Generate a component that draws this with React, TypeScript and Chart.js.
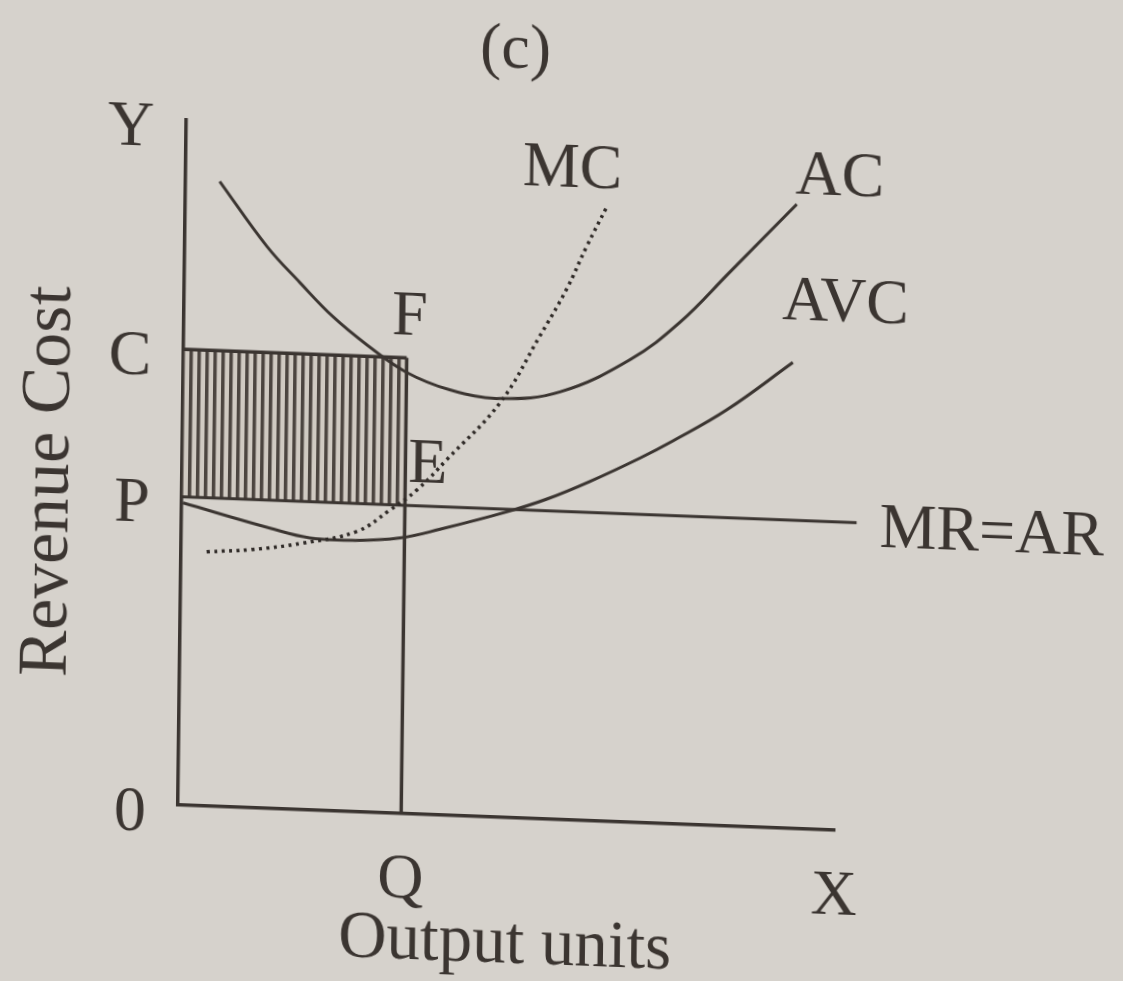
import { useEffect, useRef } from "react";
import { Chart, registerables } from "chart.js";

Chart.register(...registerables);

// Price, average cost at equilibrium and equilibrium output
const P = 4.5;
const C = 6.65;
const Q = 3.4;

// Average cost curve
const acX = [0.52, 1.25, 1.76, 2.27, 2.79, 3.4, 4.06, 4.83, 5.74, 6.8, 7.55, 8.3, 9.31];
const acY = [9.12, 8.2, 7.69, 7.21, 6.82, 6.44, 6.21, 6.11, 6.24, 6.75, 7.32, 8.08, 9.11];

// Average variable cost curve
const avcX = [0.02, 1.35, 1.96, 2.65, 3.33, 3.94, 4.95, 5.56, 6.21, 6.97, 7.47, 8.28, 9.28];
const avcY = [4.41, 4.09, 3.97, 3.96, 4.02, 4.17, 4.46, 4.67, 4.95, 5.32, 5.59, 6.07, 6.8];

// Marginal cost curve
const mcX = [0.39, 1.09, 1.85, 2.67, 3.17, 3.58, 4.03, 4.83, 5.42, 5.82, 6.12, 6.42];
const mcY = [3.71, 3.77, 3.89, 4.09, 4.42, 4.73, 5.19, 6.05, 7.04, 7.74, 8.38, 8.97];

// Marginal revenue = average revenue (horizontal at price P)
const mrX = [0, 10.28];
const mrY = [P, P];

// Axis tick marks
const yTickValues = [0, P, C, 10];
const yTickLabels = ["0", "P", "C", "Y"];
const xTickValues = [Q, 10];
const xTickLabels = ["Q", "X"];

// Curve and point names, anchored in data space
const noteText = ["MC", "AC", "AVC", "MR=AR", "F", "E"];
const noteX = [5.89, 9.96, 10.07, 10.63, 3.44, 3.74];
const noteY = [9.49, 9.52, 7.67, 4.41, 7.24, 5.09];

// Vertical axis caption, centred at this value
const yCaption = "Revenue Cost";
const yCaptionAt = 4.65;

const INK = "#3b3531";
const PAPER = "#d6d2cc";
const SERIF = '"Liberation Serif", "Times New Roman", serif';

const pts = (xs: number[], ys: number[]) => xs.map((x, i) => ({ x, y: ys[i] }));

function makeHatch(): CanvasPattern | string {
  const c = document.createElement("canvas");
  c.width = 8;
  c.height = 8;
  const g = c.getContext("2d");
  if (!g) return INK;
  g.fillStyle = "#d0cac2";
  g.fillRect(0, 0, 8, 8);
  g.fillStyle = "#4c4540";
  g.fillRect(0, 0, 3.5, 8);
  return g.createPattern(c, "repeat") || INK;
}

const notesPlugin = {
  id: "curveNotes",
  afterDatasetsDraw(chart: any) {
    const { ctx, scales } = chart;
    const x = scales.x;
    const y = scales.y;
    ctx.save();
    ctx.font = `64px ${SERIF}`;
    ctx.fillStyle = INK;
    ctx.textBaseline = "middle";
    noteText.forEach((t, i) => {
      ctx.textAlign = t === "MR=AR" ? "left" : "center";
      ctx.fillText(t, x.getPixelForValue(noteX[i]), y.getPixelForValue(noteY[i]));
    });
    // caption along the vertical axis
    ctx.translate(46, y.getPixelForValue(yCaptionAt));
    ctx.rotate(-Math.PI / 2);
    ctx.textAlign = "center";
    ctx.font = `70px ${SERIF}`;
    ctx.fillText(yCaption, 0, 0);
    ctx.restore();
  },
};

export default function App() {
  const ref = useRef<HTMLCanvasElement | null>(null);

  useEffect(() => {
    if (!ref.current) return;
    const hatch = makeHatch();
    const textFont = { family: SERIF, size: 64, weight: "normal" as const, lineHeight: 1.2 };
    const line = {
      borderColor: INK,
      pointRadius: 0,
      fill: false,
      tension: 0.4,
    };

    const chart = new Chart(ref.current, {
      type: "line",
      data: {
        datasets: [
          {
            ...line,
            label: "MC",
            data: pts(mcX, mcY),
            borderColor: "#2f2a27",
            borderWidth: 3.5,
            borderDash: [3, 4.5],
            order: 1,
          },
          { ...line, label: "AC", data: pts(acX, acY), borderWidth: 3, order: 2 },
          { ...line, label: "AVC", data: pts(avcX, avcY), borderWidth: 3, order: 3 },
          { ...line, label: "MR=AR", data: pts(mrX, mrY), borderWidth: 3, clip: false, order: 4 },
          { ...line, label: "OQ", data: [{ x: Q, y: 0 }, { x: Q, y: C }], borderWidth: 3.5, order: 5 },
          {
            ...line,
            label: "Loss",
            data: [{ x: 0, y: C }, { x: Q, y: C }],
            fill: { value: P },
            backgroundColor: hatch as any,
            borderWidth: 3.5,
            order: 6,
          },
        ],
      },
      options: {
        animation: false,
        responsive: false,
        events: [],
        layout: { padding: { left: 0, right: 288, top: 0, bottom: 0 } },
        plugins: {
          legend: { display: false },
          tooltip: { enabled: false },
          title: {
            display: true,
            text: "(c)",
            fullSize: false,
            color: INK,
            font: textFont,
            padding: { top: 0, bottom: 43 },
          },
        },
        scales: {
          x: {
            type: "linear",
            min: 0,
            max: 10,
            grid: { display: false },
            border: { display: true, color: INK, width: 3.5 },
            afterBuildTicks: (s: any) => {
              s.ticks = xTickValues.map((v) => ({ value: v }));
            },
            afterFit: (s: any) => {
              s.height = 176;
            },
            ticks: {
              autoSkip: false,
              maxRotation: 0,
              padding: 21,
              color: INK,
              font: textFont,
              callback: (_v: any, i: number) => xTickLabels[i],
            },
            title: {
              display: true,
              text: "Output units",
              color: INK,
              font: { family: SERIF, size: 67, weight: "normal", lineHeight: 1.2 },
              padding: { top: 0, bottom: 8 },
            },
          },
          y: {
            type: "linear",
            min: 0,
            max: 10,
            grid: { display: false },
            border: { display: true, color: INK, width: 3.5 },
            afterBuildTicks: (s: any) => {
              s.ticks = yTickValues.map((v) => ({ value: v }));
            },
            afterFit: (s: any) => {
              s.width = 178;
            },
            ticks: {
              autoSkip: false,
              padding: 24,
              labelOffset: 10,
              color: INK,
              font: textFont,
              callback: (_v: any, i: number) => yTickLabels[i],
            },
          },
        },
      },
      plugins: [notesPlugin],
    });

    return () => chart.destroy();
  }, []);

  return (
    <div
      style={{
        position: "fixed",
        left: 0,
        top: 0,
        width: 1123,
        height: 981,
        overflow: "hidden",
        background: PAPER,
      }}
    >
      <div
        style={{
          width: 1123,
          height: 981,
          transform: "rotate(0.7deg) skewY(1.5deg)",
          transformOrigin: "178px 805px",
        }}
      >
        <canvas ref={ref} width={1123} height={981} style={{ display: "block" }} />
      </div>
    </div>
  );
}
